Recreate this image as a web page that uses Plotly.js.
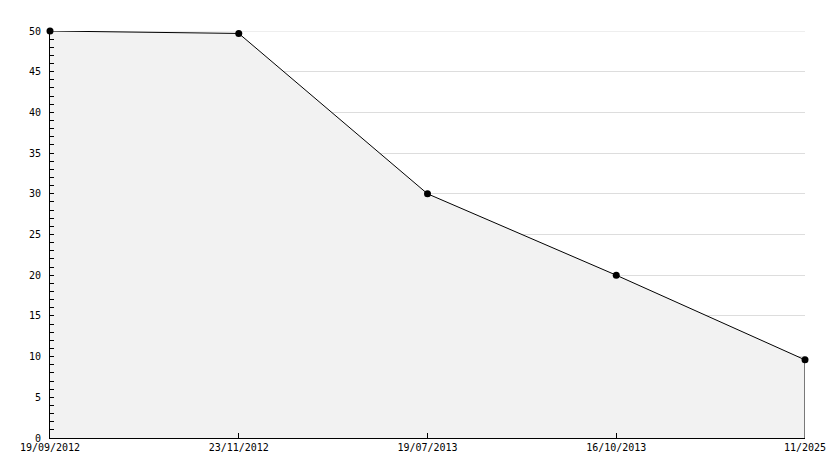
<!DOCTYPE html>
<html><head><meta charset="utf-8">
<script src="https://cdn.plot.ly/plotly-3.0.1.min.js"></script>
<style>body{margin:0;background:#fff}#c{width:834px;height:468px}</style>
</head><body><div id="c"></div>
<script>
const categories = ["19/09/2012", "23/11/2012", "19/07/2013", "16/10/2013", "11/2025"];
const values = [50, 49.7, 30, 20, 9.6];
const yTicks = [0, 5, 10, 15, 20, 25, 30, 35, 40, 45, 50];
const yMax = 50;

const last = categories.length - 1;
const traces = [
  {
    x: categories, y: values, type: "scatter", mode: "lines+markers",
    fill: "tozeroy", fillcolor: "#f2f2f2",
    line: {color: "#000", width: 1},
    marker: {color: "#000", size: 7, symbol: "circle"},
    hoverinfo: "skip", cliponaxis: false
  },
  {
    x: [categories[last], categories[last]], y: [0, values[last]],
    type: "scatter", mode: "lines", line: {color: "#000", width: 1},
    hoverinfo: "skip", cliponaxis: false
  }
];
const layout = {
  width: 834, height: 468, showlegend: false,
  paper_bgcolor: "#fff", plot_bgcolor: "#fff",
  margin: {l: 50, r: 29, t: 31, b: 30},
  font: {family: "DejaVu Sans Mono", size: 10, color: "#000"},
  shapes: [{type: "line", xref: "paper", x0: 0, x1: 1, yref: "y", y0: yMax, y1: yMax,
            line: {color: "#dddddd", width: 1}, layer: "below"}],
  xaxis: {
    type: "category", range: [0, last], showgrid: false, zeroline: false,
    showline: true, linecolor: "#000", linewidth: 1,
    ticks: "inside", ticklen: 5, tickcolor: "#000", tickwidth: 1,
    tickfont: {family: "DejaVu Sans Mono", size: 10, color: "#000"},
    fixedrange: true
  },
  yaxis: {
    range: [0, yMax], tickvals: yTicks, ticktext: yTicks.map(String),
    showgrid: true, gridcolor: "#dddddd", gridwidth: 1, zeroline: false,
    showline: true, linecolor: "#000", linewidth: 1,
    ticks: "inside", ticklen: 4, tickcolor: "#000", tickwidth: 1,
    minor: {dtick: 1, ticks: "inside", ticklen: 4, tickcolor: "#000", showgrid: false},
    tickfont: {family: "DejaVu Sans Mono", size: 10, color: "#000"},
    ticklabelstandoff: 6,
    fixedrange: true
  }
};
Plotly.newPlot("c", traces, layout, {staticPlot: true, displayModeBar: false});
</script></body></html>
